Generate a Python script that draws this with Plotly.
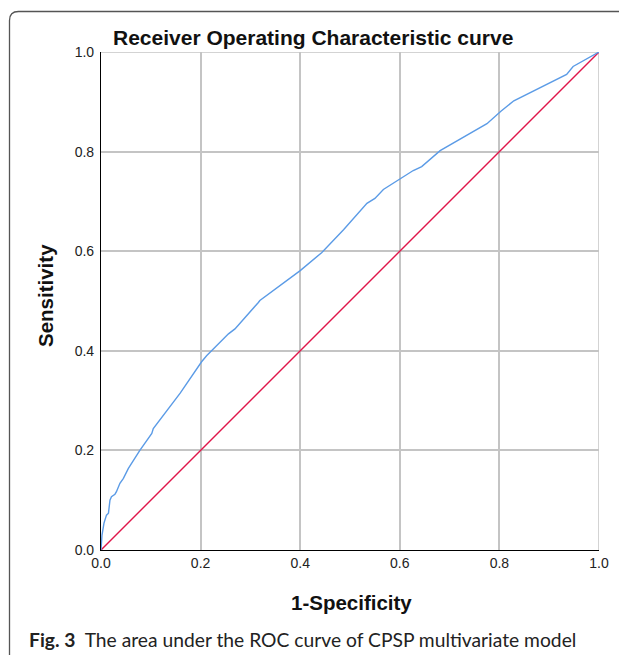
import plotly.graph_objects as go

# ROC curve points
fpr = [0.0, 0.002, 0.006, 0.011, 0.015, 0.018, 0.021, 0.028, 0.031, 0.038, 0.045, 0.055,
       0.078, 0.102, 0.105, 0.159, 0.202, 0.212, 0.256, 0.269, 0.316, 0.319, 0.400, 0.443,
       0.487, 0.534, 0.550, 0.567, 0.627, 0.644, 0.681, 0.751, 0.775, 0.803, 0.829, 0.935,
       0.948, 1.0]
tpr = [0.0, 0.03, 0.054, 0.070, 0.074, 0.100, 0.107, 0.112, 0.117, 0.134, 0.144, 0.164,
       0.200, 0.234, 0.244, 0.315, 0.378, 0.390, 0.434, 0.444, 0.497, 0.501, 0.561, 0.597,
       0.643, 0.696, 0.706, 0.724, 0.762, 0.770, 0.802, 0.843, 0.856, 0.881, 0.902, 0.955,
       0.971, 1.0]
ref_x = [0.0, 1.0]
ref_y = [0.0, 1.0]
tick_vals = [0.0, 0.2, 0.4, 0.6, 0.8, 1.0]
tick_text = ["0.0", "0.2", "0.4", "0.6", "0.8", "1.0"]

title_text = "Receiver Operating Characteristic curve"
x_title = "1-Specificity"
y_title = "Sensitivity"
caption_bold = "Fig. 3"
caption_rest = "The area under the ROC curve of CPSP multivariate model"

OFF = 8  # page body margin
W, H = 627 - OFF, 655 - OFF
L, T = 101 - OFF, 52 - OFF
PW, PH = 498, 498
R, B = W - L - PW, H - T - PH

ARIAL = "Liberation Sans, Arial, sans-serif"

fig = go.Figure()
fig.add_trace(go.Scatter(x=ref_x, y=ref_y, mode="lines",
                         line=dict(color="#e0164a", width=1.4), hoverinfo="skip"))
fig.add_trace(go.Scatter(x=fpr, y=tpr, mode="lines",
                         line=dict(color="#5b9be6", width=1.4), hoverinfo="skip"))

axis_common = dict(range=[0, 1], tickvals=tick_vals, ticktext=tick_text,
                   showgrid=True, gridcolor="#c4c4c4", gridwidth=1.5,
                   zeroline=False, showline=True, linecolor="#000000", linewidth=1.2,
                   ticks="", tickfont=dict(family=ARIAL, size=14, color="#222222"))
fig.update_xaxes(**axis_common)
fig.update_yaxes(**axis_common, ticklabelstandoff=3)

# grid lines at the far edges
fig.add_shape(type="line", xref="x", yref="y", x0=1, x1=1, y0=0, y1=1,
              line=dict(color="#c4c4c4", width=1.5), layer="below")
fig.add_shape(type="line", xref="x", yref="y", x0=0, x1=1, y0=1, y1=1,
              line=dict(color="#c4c4c4", width=1.5), layer="below")

# helpers: reference-picture pixels -> paper coords
px = lambda v: (v - OFF - L) / PW
py = lambda v: 1 - (v - OFF - T) / PH

# outer rounded frame (extends beyond the right and bottom edges)
x0, y0, x1, y1, r = 9.5, 11.5, 660, 690, 9
path = (f"M {px(x0)} {py(y1)} L {px(x0)} {py(y0 + r)} "
        f"Q {px(x0)} {py(y0)} {px(x0 + r)} {py(y0)} L {px(x1)} {py(y0)}")
fig.add_shape(type="path", xref="paper", yref="paper", path=path,
              line=dict(color="#555555", width=1.3), layer="below")

fig.add_annotation(text=f"<b>{title_text}</b>", xref="paper", yref="paper",
                   x=px(313), y=py(37), showarrow=False, xanchor="center", yanchor="middle",
                   font=dict(family=ARIAL, size=21, color="#111111"))
fig.add_annotation(text=f"<b>{x_title}</b>", xref="paper", yref="paper",
                   x=px(351), y=py(602), showarrow=False, xanchor="center", yanchor="middle",
                   font=dict(family=ARIAL, size=20.5, color="#111111"))
fig.add_annotation(text=f"<b>{y_title}</b>", xref="paper", yref="paper",
                   x=px(45), y=py(296), showarrow=False, xanchor="center", yanchor="middle",
                   textangle=-90,
                   font=dict(family=ARIAL, size=20.5, color="#111111"))
fig.add_annotation(text=f"<b>{caption_bold}</b>  {caption_rest}", xref="paper", yref="paper",
                   x=px(27), y=py(639), showarrow=False, xanchor="left", yanchor="middle",
                   font=dict(family="Lato", size=19.25, color="#222222"))

fig.update_layout(width=W, height=H, margin=dict(l=L, r=R, t=T, b=B),
                  paper_bgcolor="white", plot_bgcolor="white", showlegend=False)

fig.write_html("out.html")
